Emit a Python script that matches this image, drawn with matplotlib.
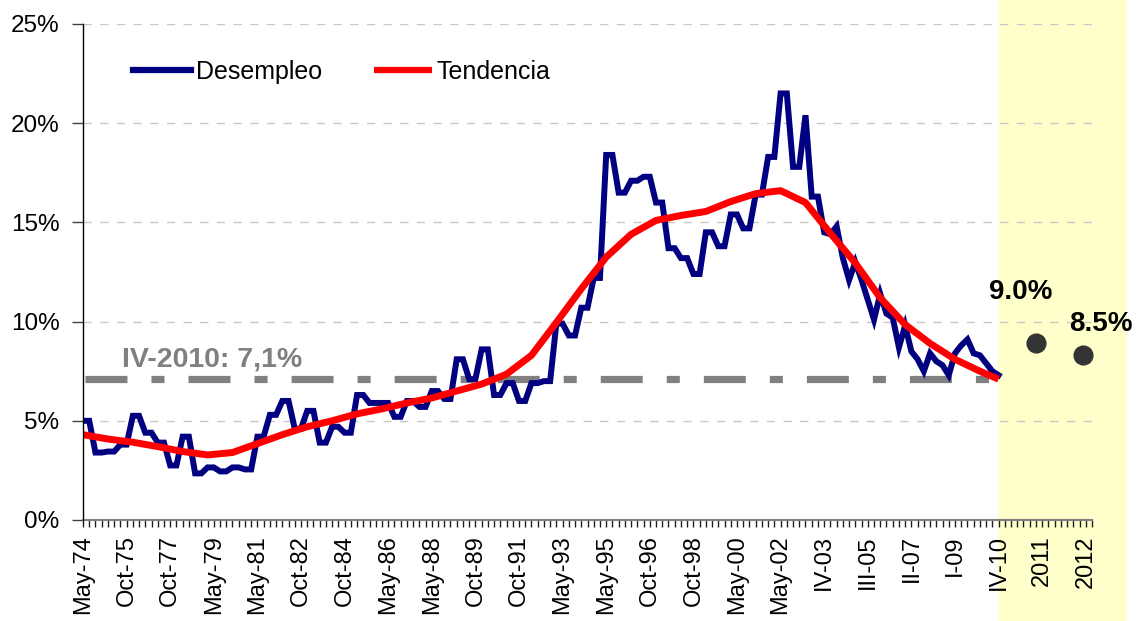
import matplotlib
matplotlib.use('Agg')
import matplotlib.pyplot as plt
from matplotlib.patches import Rectangle
import numpy as np

plt.rcParams['font.family'] = ['Liberation Sans', 'DejaVu Sans']
plt.rcParams['lines.scale_dashes'] = False

# ---------------- data ----------------
# Semiannual survey values (May / Oct), May-74 ... Oct-02; each occupies two category slots
survey_values = [5.0, 3.4, 3.45, 3.8, 5.25, 4.4, 3.9, 2.75, 4.2, 2.35,
                 2.65, 2.45, 2.65, 2.55, 4.2, 5.3, 6.0, 4.6, 5.5, 3.9,
                 4.7, 4.4, 6.3, 5.9, 5.9, 5.2, 6.0, 5.7, 6.5, 6.1,
                 8.1, 7.1, 8.6, 6.3, 6.9, 6.0, 6.9, 7.0, 9.9, 9.3,
                 10.7, 12.2, 18.4, 16.5, 17.1, 17.3, 16.0, 13.7, 13.2, 12.4,
                 14.5, 13.8, 15.4, 14.7, 16.4, 18.3, 21.5, 17.8]
# One value per category slot from 2003 up to IV-10
quarter_values = [20.4, 16.3, 16.3, 14.5, 14.4, 14.8, 13.2, 12.1, 13.0, 12.1,
                  11.1, 10.1, 11.4, 10.4, 10.2, 8.7, 9.8, 8.5, 8.1, 7.5,
                  8.4, 8.0, 7.8, 7.3, 8.4, 8.8, 9.1, 8.4, 8.3, 7.9,
                  7.5, 7.3]

# Trend (Tendencia) read at category slots
trend_slots = [0, 4, 8, 12, 16, 20, 24, 28, 32, 36, 40, 44, 48, 52, 56, 60, 64, 68,
               72, 76, 80, 84, 88, 92, 96, 100, 104, 108, 112, 116, 120, 124, 128,
               132, 136, 140, 144, 147]
trend_values = [4.3, 4.08, 3.92, 3.7, 3.45, 3.28, 3.4, 3.85, 4.3, 4.7, 5.0, 5.35,
                5.6, 5.9, 6.15, 6.5, 6.85, 7.35, 8.3, 9.95, 11.65, 13.25, 14.4,
                15.1, 15.35, 15.55, 16.05, 16.45, 16.6, 16.0, 14.45, 12.95, 11.2,
                9.85, 8.9, 8.1, 7.5, 7.1]

tick_labels = ['May-74', 'Oct-75', 'Oct-77', 'May-79', 'May-81', 'Oct-82', 'Oct-84',
               'May-86', 'May-88', 'Oct-89', 'Oct-91', 'May-93', 'May-95', 'Oct-96',
               'Oct-98', 'May-00', 'May-02', 'IV-03', 'III-05', 'II-07', 'I-09',
               'IV-10', '2011', '2012']
label_every = 7
n_categories = 163

forecast_text = ['9.0%', '8.5%']
forecast_values = [8.9, 8.3]
forecast_slots = [153, 160.5]

reference_value = 7.1
reference_text = 'IV-2010: 7,1%'

legend_names = ['Desempleo', 'Tendencia']

# ---------------- build series ----------------
desempleo = np.array([v for v in survey_values for _ in range(2)] + quarter_values)
x_des = np.arange(len(desempleo))
last_slot = len(desempleo) - 1

# ---------------- figure ----------------
W, H = 1138, 621
fig = plt.figure(figsize=(W / 100, H / 100), dpi=100)
fig.patch.set_facecolor('white')

# Yellow forecast band (behind everything)
band = Rectangle((998 / W, 0), (1127 - 998) / W, 1, transform=fig.transFigure,
                 facecolor='#FFFFCC', edgecolor='none', zorder=-10)
fig.patches.append(band)

ax = fig.add_axes([83 / W, 1 - 520 / H, (1092 - 83) / W, (520 - 24) / H])
ax.set_zorder(1)
ax.set_facecolor('none')
ax.set_xlim(0, n_categories - 1)
ax.set_ylim(0, 25)

# grid
for y in [5, 10, 15, 20, 25]:
    ax.axhline(y, color='#C8C8C8', lw=1.0, linestyle=(0, (6, 6)), zorder=1)

# reference line
ax.plot([0.3, last_slot], [reference_value, reference_value], color='#808080', lw=5.2,
        linestyle=(0, (30.2, 17.3, 9.4, 17.3)), solid_capstyle='butt',
        dash_capstyle='butt', zorder=2)
ax.text(6.3, 7.75, reference_text, color='#808080', fontsize=20.5, fontweight='bold',
        ha='left', va='baseline', zorder=5)

# series
l1, = ax.plot(x_des, desempleo, color='#000080', lw=4.3, solid_joinstyle='miter', zorder=3)
l2, = ax.plot(trend_slots, trend_values, color='#FF0000', lw=5.0, solid_joinstyle='round',
              solid_capstyle='butt', zorder=4)

# forecast dots
ax.plot(forecast_slots, forecast_values, linestyle='none', marker='o', markersize=13.5,
        color='#333333', zorder=5, clip_on=False)
offsets = [(-10.8, 32.2), (13.0, 17.5)]
for xs, v, t, off in zip(forecast_slots, forecast_values, forecast_text, offsets):
    ax.annotate(t, (xs, v), xytext=off, textcoords='offset points', ha='center',
                va='baseline', fontsize=20, fontweight='bold', color='black',
                annotation_clip=False, zorder=6)

# axes styling
for s in ['top', 'right']:
    ax.spines[s].set_visible(False)
ax.spines['left'].set_color('black')
ax.spines['left'].set_linewidth(1.0)
ax.spines['bottom'].set_color('#808080')
ax.spines['bottom'].set_linewidth(1.5)
ax.spines['left'].set_zorder(6)

ax.set_yticks([0, 5, 10, 15, 20, 25])
ax.set_yticklabels([f'{v}%' for v in [0, 5, 10, 15, 20, 25]])
ax.tick_params(axis='y', direction='out', length=8, width=1, color='#404040',
               labelsize=17.5, pad=9)

xt = np.arange(n_categories)
ax.set_xticks(xt)
labels = [''] * n_categories
for i, lab in enumerate(tick_labels):
    labels[i * label_every] = lab
ax.set_xticklabels(labels, rotation=90, ha='center', va='top')
ax.tick_params(axis='x', direction='out', length=5, width=1, color='#202020',
               labelsize=17, pad=6)

leg = ax.legend([l1, l2], legend_names, ncol=2, frameon=False, loc='center left',
                bbox_to_anchor=(133 / W, 1 - 72 / H), bbox_transform=fig.transFigure,
                fontsize=18, handlelength=2.3, handletextpad=0.2, columnspacing=2.1,
                borderpad=0, borderaxespad=0)
for ln in leg.get_lines():
    ln.set_linewidth(4.5)

fig.savefig('out.png', dpi=100, facecolor=fig.get_facecolor())
